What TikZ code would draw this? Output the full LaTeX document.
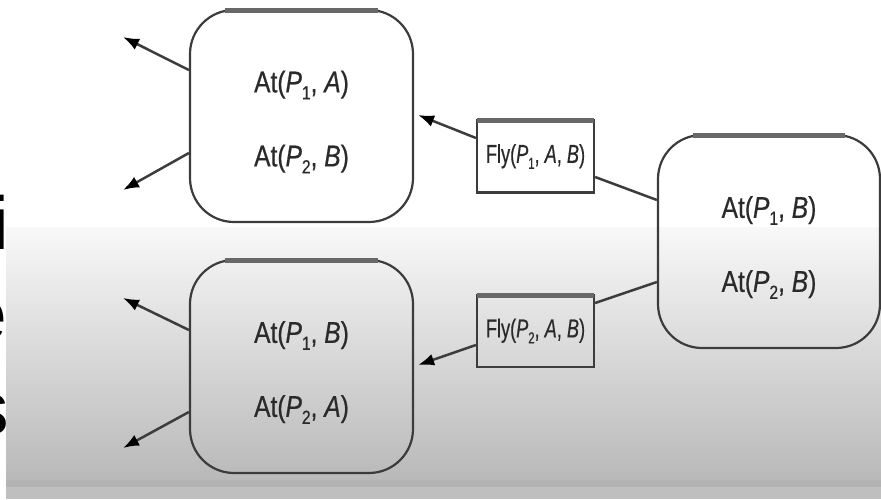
\documentclass[tikz,border=0pt]{standalone}
\usepackage{fontspec}
\setmainfont{Liberation Sans}
\newfontfamily\atfont[FakeStretch=0.82,FakeBold=0.6]{Liberation Sans}
\newfontfamily\flyfont[FakeStretch=0.70,FakeBold=0.5]{Liberation Sans}
\usetikzlibrary{arrows.meta,calc}
\definecolor{linec}{HTML}{3C3C3C}
\definecolor{topc}{HTML}{686868}
\definecolor{txtc}{HTML}{2A2A2A}
\definecolor{gradtop}{HTML}{F8F8F8}
\definecolor{gradbot}{HTML}{B9B9B9}
\definecolor{bandA}{HTML}{B3B3B3}
\definecolor{bandB}{HTML}{BFBFBF}
\newcommand\sbs[1]{\raisebox{-7pt}{\fontsize{19}{19}\selectfont #1}}
\newcommand\sbf[1]{\raisebox{-6pt}{\fontsize{16}{16}\selectfont #1}}
\begin{document}
\begin{tikzpicture}[x=1pt,y=-1pt,
  statebox/.style={draw=linec,line width=2.2pt,rounded corners=44pt,minimum width=223pt,minimum height=212pt,inner sep=0pt},
  statetext/.style={inner sep=0pt,align=center,text=txtc,font=\atfont\fontsize{30}{74}\selectfont},
  actbox/.style={draw=linec,line width=2.2pt,minimum width=117pt,minimum height=72pt,inner sep=0pt,text=txtc,font=\flyfont\fontsize{26}{26}\selectfont},
  topedge/.style={draw=topc,line width=5pt},
  link/.style={draw=linec,line width=2.5pt},
  arr/.style={link,-{Latex[length=16pt,width=12pt,color=black]}},
  frag/.style={anchor=base east,inner sep=0pt,text=black,font=\fontsize{75}{75}\selectfont}
]
\useasboundingbox (0,0) rectangle (881,499);
\fill[white] (0,0) rectangle (881,499);
\begin{scope}
  \clip (0,0) rectangle (6,499);
  \node[frag] (li) at (9,249) {i};
  \node[frag] (le) at (7.5,340) {e};
  \node[frag] (ls) at (9,434) {s};
\end{scope}
\shade[top color=gradtop,bottom color=gradbot] (6,227) rectangle (881,480);
\fill[bandA] (6,480) rectangle (881,487);
\fill[bandB] (6,487) rectangle (881,499);

\node[statebox] (s1) at (301.5,116) {};
\node[statebox,minimum height=213pt] (s2) at (301.5,366.5) {};
\node[statebox,minimum width=222pt,minimum height=213pt] (s0) at (769,241.5) {};
\node[statetext] (t1) at ([yshift=-6pt]s1.center) {At(\textit{P}\sbs{1}, \textit{A})\\At(\textit{P}\sbs{2}, \textit{B})};
\node[statetext] (t2) at ([yshift=-6pt]s2.center) {At(\textit{P}\sbs{1}, \textit{B})\\At(\textit{P}\sbs{2}, \textit{A})};
\node[statetext] (t0) at ([yshift=-6pt]s0.center) {At(\textit{P}\sbs{1}, \textit{B})\\At(\textit{P}\sbs{2}, \textit{B})};
\node[actbox] (f1) at (535.5,156.5) {Fly(\textit{P}\sbf{1}, \textit{A}, \textit{B})};
\node[actbox] (f2) at (535.5,331) {Fly(\textit{P}\sbf{2}, \textit{A}, \textit{B})};

\foreach \n in {s1,s2,s0}
  \draw[topedge] ([xshift=36pt,yshift=-1.5pt]\n.north west) -- ([xshift=-36pt,yshift=-1.5pt]\n.north east);
\foreach \n in {f1,f2}
  \draw[topedge] ([xshift=1pt,yshift=-1.5pt]\n.north west) -- ([xshift=-1pt,yshift=-1.5pt]\n.north east);

\coordinate (a1) at (123,37);
\coordinate (a2) at (123,190);
\coordinate (a3) at (123,298);
\coordinate (a4) at (123,448);
\draw[arr] ([yshift=46pt]s1.west) -- (a1);
\draw[arr] ([yshift=-37pt]s1.west) -- (a2);
\draw[arr] ([yshift=36.5pt]s2.west) -- (a3);
\draw[arr] ([yshift=-45.5pt]s2.west) -- (a4);
\draw[arr] ([yshift=18.5pt]f1.west) -- ([xshift=4pt,yshift=1pt]s1.east);
\draw[link] ([yshift=41.5pt]s0.west) -- ([yshift=-20.5pt]f1.east);
\draw[link] ([yshift=-40.5pt]s0.west) -- ([yshift=28pt]f2.east);
\draw[arr] ([yshift=-14pt]f2.west) -- ([xshift=4pt,yshift=1.5pt]s2.east);
\end{tikzpicture}
\end{document}
